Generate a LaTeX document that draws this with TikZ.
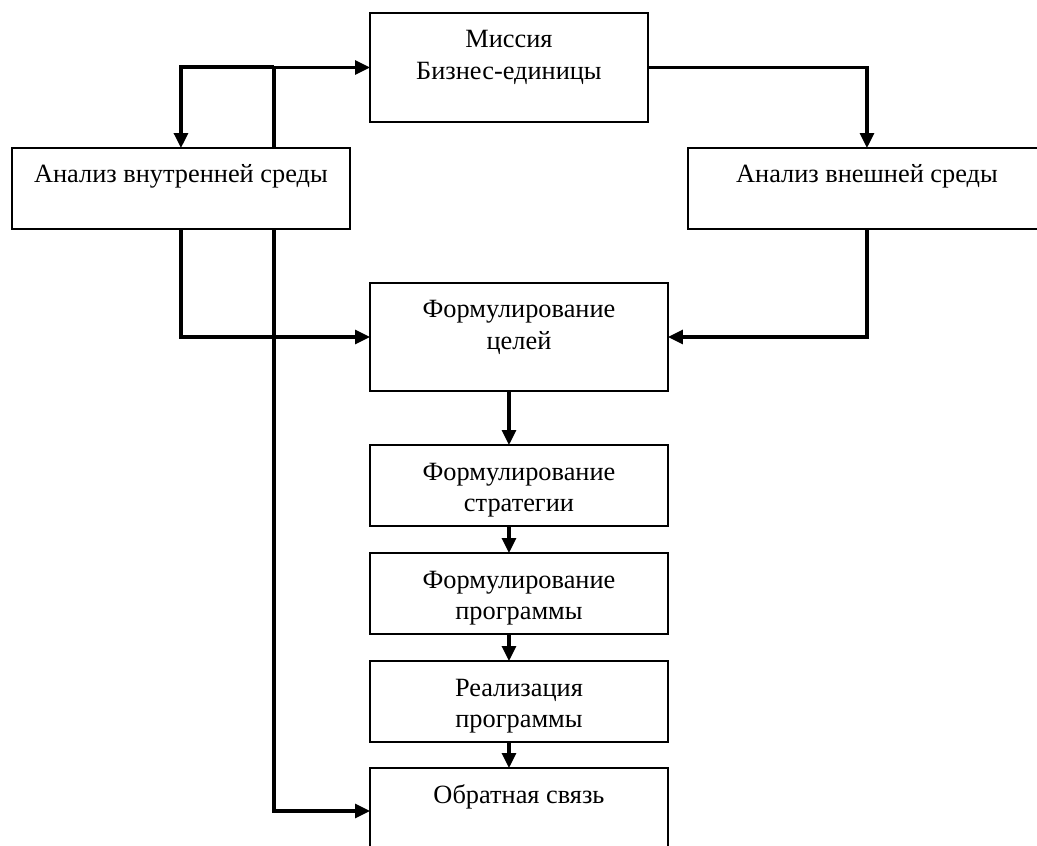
\documentclass[tikz,border=0pt]{standalone}
\usepackage{fontspec}
\setmainfont{Liberation Serif}
\usetikzlibrary{arrows.meta}
\newcommand{\blktext}[3]{\parbox[c][#2][t]{#1}{\centering\rule{0pt}{0.7cm}#3}}
\begin{document}
\begin{tikzpicture}[x=0.02cm,y=-0.02cm,inner sep=0pt,outer sep=0pt,
>={Triangle[length=0.3cm,width=0.28cm]},
conn/.style={line width=1.8pt},
blk/.style={draw,rectangle,inner sep=0pt,anchor=north west,line width=1.3pt,font=\fontsize{15}{18.2}\selectfont}]
\clip (0,0) rectangle (1037,845);
\node[blk] (mission) at (370,13) {\blktext{5.56cm}{2.18cm}{Миссия\\Бизнес-единицы}};
\node[blk] (inner) at (12,148) {\blktext{6.76cm}{1.62cm}{Анализ внутренней среды}};
\node[blk] (outer) at (688,148) {\blktext{7.16cm}{1.62cm}{Анализ внешней среды}};
\node[blk] (goals) at (370,283) {\blktext{5.96cm}{2.16cm}{Формулирование\\целей}};
\node[blk] (strategy) at (370,445) {\blktext{5.96cm}{1.62cm}{Формулирование\\стратегии}};
\node[blk] (program) at (370,553) {\blktext{5.96cm}{1.62cm}{Формулирование\\программы}};
\node[blk] (realize) at (370,661) {\blktext{5.96cm}{1.62cm}{Реализация\\программы}};
\node[blk] (feedback) at (370,768) {\blktext{5.96cm}{1.72cm}{Обратная связь}};
\coordinate (jn) at (274,67);
\draw[conn,->] (inner.north -| jn) |- (mission.west);
\draw[conn,->] (jn) -| (inner.north);
\draw[conn,->] (inner.south) |- (goals.west);
\draw[conn,->] (inner.south -| jn) |- (feedback.west);
\draw[conn,->] (mission.east) -| (outer.north);
\draw[conn,->] (outer.south) |- (goals.east);
\foreach \a/\b in {goals/strategy,strategy/program,program/realize,realize/feedback}
  \draw[conn,->] (\a.south -| mission.south) -- (\b.north -| mission.south);
\end{tikzpicture}
\end{document}
